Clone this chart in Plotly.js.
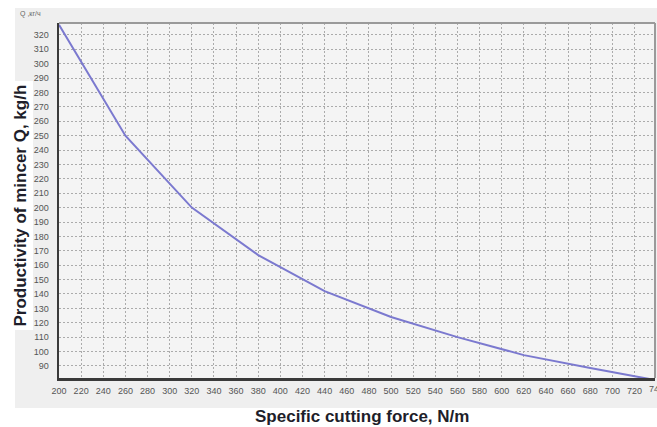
<!DOCTYPE html>
<html>
<head>
<meta charset="utf-8">
<script src="https://cdn.plot.ly/plotly-3.0.1.min.js"></script>
<style>
html,body{margin:0;padding:0;background:#fff;}
#chart{width:657px;height:427px;}
</style>
</head>
<body>
<div id="chart"></div>
<script>
// Data
const force = [200, 260, 320, 380, 440, 500, 560, 620, 680, 740];
const productivity = [327, 250, 200, 167, 142, 124, 110, 97.5, 88.5, 80];
const xTicks = [200,220,240,260,280,300,320,340,360,380,400,420,440,460,480,500,520,540,560,580,600,620,640,660,680,700,720,740];
const yTicks = [90,100,110,120,130,140,150,160,170,180,190,200,210,220,230,240,250,260,270,280,290,300,310,320];
const xTitle = "Specific cutting force, N/m";
const yTitle = "Productivity of mincer Q, kg/h";
const unitLabel = "Q ,кг/ч";

const W = 657, H = 427;
const L = 59, R = 2, T = 23, B = 49;
const pw = W - L - R, ph = H - T - B;
const xRange = [200, 738.5];
function px(x){ return (x - L) / pw; }
function py(y){ return 1 - (y - T) / ph; }

const trace = {
  x: force, y: productivity, type: 'scatter', mode: 'lines',
  line: {color: '#7b79cf', width: 2},
  hoverinfo: 'skip', cliponaxis: true
};

const gridStyle = {gridcolor: '#ababab', gridwidth: 1, griddash: '2px,2px'};

// last tick (740) lies just past the visible range; draw its label as paper text so it is cut by the page edge
const lastTick = xTicks[xTicks.length - 1];
const lastTickPaperX = (lastTick - xRange[0]) / (xRange[1] - xRange[0]);

const layout = {
  width: W, height: H,
  margin: {l: L, r: R, t: T, b: B, pad: 0},
  paper_bgcolor: '#ffffff',
  plot_bgcolor: '#f4f4f4',
  showlegend: false,
  font: {family: 'Liberation Sans, Arial, sans-serif'},
  xaxis: Object.assign({
    range: xRange,
    tickmode: 'array', tickvals: xTicks, ticktext: xTicks.map(String),
    tickfont: {size: 9, color: '#555'},
    showline: true, linecolor: '#3a3a3a', linewidth: 2.5,
    zeroline: false, ticks: '', ticklabelstandoff: 3
  }, gridStyle),
  yaxis: Object.assign({
    range: [81.6, 328.3],
    tickmode: 'array', tickvals: yTicks, ticktext: yTicks.map(String),
    tickfont: {size: 9, color: '#555'},
    showline: true, linecolor: '#3a3a3a', linewidth: 2.5,
    zeroline: false, ticks: '', ticklabelstandoff: 6
  }, gridStyle),
  shapes: [
    {type: 'rect', xref: 'paper', yref: 'paper', layer: 'below',
     x0: px(15), x1: px(657), y0: py(408), y1: py(8),
     fillcolor: '#efefef', line: {width: 0}},
    {type: 'rect', xref: 'paper', yref: 'paper', layer: 'below',
     x0: 0, x1: 1, y0: 0, y1: 1,
     fillcolor: '#f4f4f4', line: {width: 0}},
    {type: 'line', xref: 'paper', yref: 'paper', layer: 'above',
     x0: 0, x1: 1, y0: 1, y1: 1, line: {color: '#9a9a9a', width: 2}},
    {type: 'line', xref: 'paper', yref: 'paper', layer: 'above',
     x0: 1, x1: 1, y0: 0, y1: 1, line: {color: '#9a9a9a', width: 2}}
  ],
  annotations: [
    {text: unitLabel, xref: 'paper', yref: 'paper', x: px(18), y: py(14),
     xanchor: 'left', yanchor: 'middle', showarrow: false,
     font: {size: 7, color: '#666'}},
    {text: String(lastTick), xref: 'paper', yref: 'paper', x: lastTickPaperX, y: py(389),
     xanchor: 'center', yanchor: 'middle', showarrow: false,
     font: {size: 9, color: '#555'}},
    {text: '<b>' + yTitle + '</b>', xref: 'paper', yref: 'paper',
     x: px(19.5), y: py(206), xanchor: 'center', yanchor: 'middle',
     textangle: -90, showarrow: false, bgcolor: '#ffffff', borderpad: 3,
     font: {size: 17, color: '#1e1e2a'}},
    {text: '<b>' + xTitle + '</b>', xref: 'paper', yref: 'paper',
     x: px(362), y: py(416), xanchor: 'center', yanchor: 'middle',
     showarrow: false,
     font: {size: 17, color: '#1e1e2a'}}
  ]
};

Plotly.newPlot('chart', [trace], layout, {staticPlot: true, displayModeBar: false});
</script>
</body>
</html>
